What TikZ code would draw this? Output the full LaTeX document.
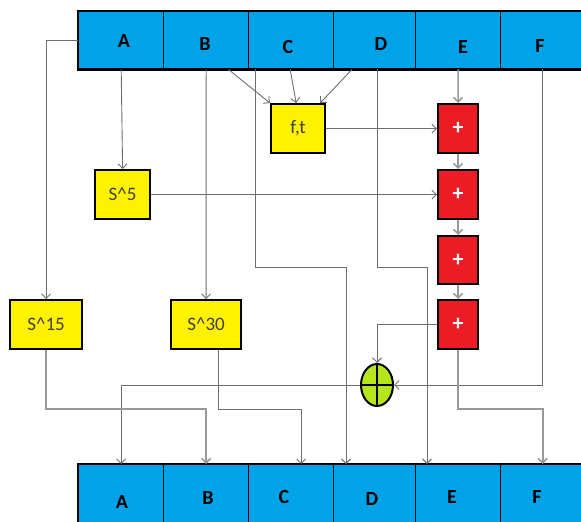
\documentclass[tikz,border=0pt]{standalone}
\usepackage{fontspec}
\setmainfont{Carlito}
\usetikzlibrary{arrows.meta,shapes.geometric}
\definecolor{cellblue}{HTML}{00A2E8}
\definecolor{boxyellow}{HTML}{FFF200}
\definecolor{boxred}{HTML}{ED1C24}
\definecolor{xorgreen}{HTML}{B5E61D}
\definecolor{wiregray}{HTML}{6E6E6E}
\tikzset{
  cell/.style={draw=black, line width=1.4pt, fill=cellblue, anchor=north west,
    inner sep=0pt, minimum height=57pt},
  barlabel/.style={font=\bfseries\fontsize{20}{20}\selectfont, inner sep=0pt},
  ybox/.style={draw=black, line width=2.2pt, fill=boxyellow, anchor=north west,
    inner sep=0pt, minimum height=49pt, text=black!75,
    font=\fontsize{19}{19}\selectfont},
  rbox/.style={draw=black, line width=2.2pt, fill=boxred, anchor=north west,
    inner sep=0pt, minimum width=40pt, minimum height=49pt, text=white,
    font=\bfseries\fontsize{22}{22}\selectfont},
  wire/.style={draw=wiregray, line width=0.9pt},
  wirelt/.style={draw=black!40, line width=1.6pt},
  tip/.style={-{Straight Barb[length=4.5pt,width=9pt]}}
}
\begin{document}
\begin{tikzpicture}[x=1pt,y=-1pt]
\useasboundingbox (0,0) rectangle (581,522);

% input register
\node[cell, minimum width=85pt] (tA) at (78,11) {};
\node[cell, minimum width=85pt] (tB) at (163,11) {};
\node[cell, minimum width=85pt] (tC) at (248,11) {};
\node[cell, minimum width=82pt] (tD) at (333,11) {};
\node[cell, minimum width=85pt] (tE) at (415,11) {};
\node[cell, minimum width=84pt] (tF) at (500,11) {};
\draw[line width=2.4pt] (tA.north west) rectangle (tF.south east);
\node[barlabel] (ltA) at (124,41) {A};
\node[barlabel] (ltB) at (205,44) {B};
\node[barlabel] (ltC) at (288,47) {C};
\node[barlabel] (ltD) at (381,44) {D};
\node[barlabel] (ltE) at (463,47) {E};
\node[barlabel] (ltF) at (540,46) {F};

% output register
\node[cell, minimum width=85pt, minimum height=60pt] (bA) at (78,464) {};
\node[cell, minimum width=85pt, minimum height=60pt] (bB) at (163,464) {};
\node[cell, minimum width=85pt, minimum height=60pt] (bC) at (248,464) {};
\node[cell, minimum width=82pt, minimum height=60pt] (bD) at (333,464) {};
\node[cell, minimum width=85pt, minimum height=60pt] (bE) at (415,464) {};
\node[cell, minimum width=84pt, minimum height=60pt] (bF) at (500,464) {};
\draw[line width=2.4pt] (bA.north west) rectangle (bF.south east);
\node[barlabel] (lbA) at (122,502) {A};
\node[barlabel] (lbB) at (208,498) {B};
\node[barlabel] (lbC) at (284,497) {C};
\node[barlabel] (lbD) at (372,499) {D};
\node[barlabel] (lbE) at (452,497) {E};
\node[barlabel] (lbF) at (537,497) {F};

% function and rotation blocks
\node[ybox, minimum width=54pt] (ft)  at (270,103) {f,t};
\node[ybox, minimum width=55pt] (s5)  at (94,169)  {S\string^5};
\node[ybox, minimum width=72pt] (s15) at (9,299)   {S\string^15};
\node[ybox, minimum width=70pt] (s30) at (170,299) {S\string^30};

% modular adders
\node[rbox] (r1) at (437,103) {+};
\node[rbox] (r2) at (437,169) {+};
\node[rbox, minimum height=48pt] (r3) at (437,235) {+};
\node[rbox] (r4) at (437,299) {+};

% xor
\node[ellipse, draw=black, line width=2pt, fill=xorgreen, inner sep=0pt,
      minimum width=32pt, minimum height=42pt] (xo) at (377,385) {};
\draw[line width=1.6pt] (xo.north) -- (xo.south) (xo.west) -- (xo.east);

% inputs of f,t
\draw[wire, tip] ([xshift=-21pt]tB.south east) -- (ft.north west);
\draw[wire, tip] ([xshift=-1pt]tC.south) -- ([xshift=-2pt]ft.north);
\draw[wire, tip] ([xshift=19pt]tD.south west) -- ([xshift=-6pt]ft.north east);

% rotations
\draw[wire, tip] (tA.west) -| (s15.north);
\draw[wire, tip] (tA.south) -- (s5.north);
\draw[wire, tip] (tB.south) -- (s30.north);

% adder chain
\draw[wirelt, tip] (tE.south) -- (r1.north);
\draw[wire, tip] (ft.east) -- (r1.west);
\draw[wire, tip] (s5.east) -- (r2.west);
\draw[wirelt, tip] (r1.south) -- (r2.north);
\draw[wirelt, tip] (r2.south) -- (r3.north);
\draw[wirelt, tip] (r3.south) -- (r4.north);

% xor inputs and output
\draw[wire, tip] (r4.west) -| (xo.north);
\draw[wire, tip] (tF.south) |- (xo.east);
\draw[wire, tip] (xo.west) -| (bA.north);

% pass-through words
\draw[wire, tip] ([xshift=7pt]tC.south west) |- (346,267) -- ([xshift=13pt]bD.north west);
\draw[wire, tip] ([xshift=44pt]tD.south west) |- (427,267) -- ([xshift=12pt]bE.north west);
\draw[wirelt, tip] (s15.south) -- ++(0,59) -| (bB.north);
\draw[wire, tip] ([xshift=12pt]s30.south) -- ++(0,59) -| ([xshift=10pt]bC.north);
\draw[wirelt, tip] (r4.south) -- ++(0,59) -| (bF.north);
\end{tikzpicture}
\end{document}
